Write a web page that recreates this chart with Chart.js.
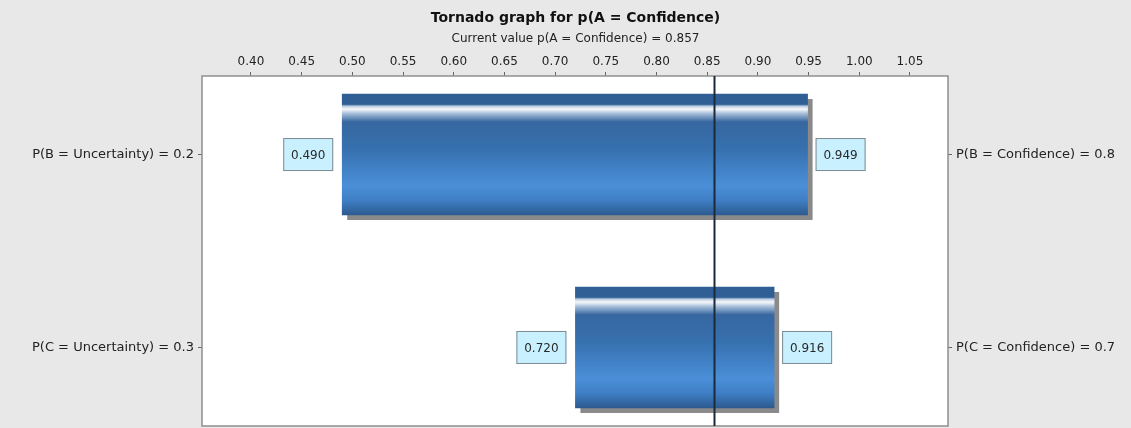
<!DOCTYPE html>
<html>
<head>
<meta charset="utf-8">
<title>Tornado graph</title>
<script src="https://cdn.jsdelivr.net/npm/chart.js@4.4.1/dist/chart.umd.min.js"></script>
<style>
    html, body { margin: 0; padding: 0; background: #e8e8e8; }
    #wrap { width: 1131px; height: 428px; }
</style>
</head>
<body>
<div id="wrap"><canvas id="tornado" width="1131" height="428"></canvas></div>
<script>
// ======================== DADOS ========================
const lowLabels = ['P(B = Uncertainty) = 0.2', 'P(C = Uncertainty) = 0.3'];
const highLabels = ['P(B = Confidence) = 0.8', 'P(C = Confidence) = 0.7'];
const lowValues = [0.490, 0.720];
const highValues = [0.949, 0.916];
const currentValue = 0.857;
const xTicks = [0.40, 0.45, 0.50, 0.55, 0.60, 0.65, 0.70, 0.75, 0.80, 0.85, 0.90, 0.95, 1.00, 1.05];

const FONT = "'DejaVu Sans', sans-serif";
const BAR_H = 121;

// ======================== GRADIENTE DAS BARRAS ========================
function barGradient(context) {
    const chart = context.chart;
    const yScale = chart.scales.y;
    if (!yScale || context.type !== 'data') return '#3a74b4';
    const yc = yScale.getPixelForValue(context.dataIndex);
    if (!isFinite(yc)) return '#3a74b4'; // escala ainda sem layout
    const top = yc - BAR_H / 2;
    const g = chart.ctx.createLinearGradient(0, top, 0, top + BAR_H);
    g.addColorStop(0.0, '#2f5f95');
    g.addColorStop(0.085, '#2f5f95');
    g.addColorStop(0.10, '#b9cbe0');
    g.addColorStop(0.125, '#f6f8fb');
    g.addColorStop(0.16, '#a9c0db');
    g.addColorStop(0.23, '#3767a0');
    g.addColorStop(0.45, '#3670ae');
    g.addColorStop(0.76, '#4a8fd8');
    g.addColorStop(0.88, '#3f7ec4');
    g.addColorStop(1.0, '#2c5a8f');
    return g;
}

// ======================== PLUGIN: FUNDO, SOMBRA, LINHA, CAIXAS ========================
const tornadoPlugin = {
    id: 'tornado',
    beforeDraw(chart) {
        const { ctx, chartArea: a } = chart;
        ctx.save();
        ctx.fillStyle = '#ffffff';
        ctx.fillRect(a.left, a.top, a.right - a.left, a.bottom - a.top);
        ctx.restore();
    },
    beforeDatasetsDraw(chart) {
        const { ctx, chartArea: a } = chart;
        ctx.save();
        ctx.strokeStyle = '#8e8e8e';
        ctx.lineWidth = 1.5;
        ctx.strokeRect(a.left, a.top, a.right - a.left, a.bottom - a.top);

        // sombra das barras
        const meta = chart.getDatasetMeta(0);
        ctx.fillStyle = '#8a8a8a';
        meta.data.forEach((bar) => {
            const p = bar.getProps(['x', 'y', 'base', 'height'], true);
            const left = Math.min(p.x, p.base);
            const w = Math.abs(p.x - p.base);
            ctx.fillRect(left + 5, p.y - p.height / 2 + 5, w, p.height);
        });
        ctx.restore();
    },
    afterDatasetsDraw(chart) {
        const { ctx, chartArea: a, scales } = chart;
        ctx.save();

        // linha do valor atual
        const xc = Math.round(scales.x.getPixelForValue(currentValue)) + 0.5;
        ctx.strokeStyle = '#1b2a3b';
        ctx.lineWidth = 2;
        ctx.beginPath();
        ctx.moveTo(xc, a.top);
        ctx.lineTo(xc, a.bottom);
        ctx.stroke();

        // caixas com os valores
        ctx.font = '12px ' + FONT;
        ctx.textAlign = 'center';
        ctx.textBaseline = 'middle';
        const meta = chart.getDatasetMeta(0);
        meta.data.forEach((bar, i) => {
            const left = scales.x.getPixelForValue(lowValues[i]);
            const right = scales.x.getPixelForValue(highValues[i]);
            const yc = bar.y;
            const boxes = [
                { x: left - 9 - 50, txt: lowValues[i].toFixed(3) },
                { x: right + 8, txt: highValues[i].toFixed(3) },
            ];
            boxes.forEach((b) => {
                ctx.fillStyle = '#c8f0ff';
                ctx.fillRect(b.x, yc - 16.5, 50, 33);
                ctx.strokeStyle = '#7e8a90';
                ctx.lineWidth = 1;
                ctx.strokeRect(b.x + 0.5, yc - 16, 49, 32);
                ctx.fillStyle = '#2a2a2a';
                ctx.fillText(b.txt, b.x + 25, yc + 1);
            });
        });
        ctx.restore();
    },
};

// ======================== GRÁFICO ========================
const yCommon = {
    type: 'linear',
    min: -0.407,
    max: 1.407,
    reverse: true,
    offset: false,
    bounds: 'data',
    afterBuildTicks: (axis) => {
        axis.ticks = [0, 1].map((v) => ({ value: v }));
    },
    grid: { offset: false, drawOnChartArea: false, drawTicks: true, tickLength: 4, color: '#666' },
    border: { display: false },
};

new Chart(document.getElementById('tornado'), {
    type: 'bar',
    data: {
        datasets: [
            {
                data: lowValues.map((v, i) => ({ y: i, x: [v, highValues[i]] })),
                backgroundColor: barGradient,
                borderWidth: 0,
                barThickness: BAR_H,
                yAxisID: 'y',
            },
        ],
    },
    options: {
        indexAxis: 'y',
        responsive: false,
        animation: false,
        devicePixelRatio: 1,
        layout: { padding: { left: 20, right: 0, top: 0, bottom: 2 } },
        plugins: {
            legend: { display: false },
            tooltip: { enabled: false },
            title: {
                display: true,
                text: 'Tornado graph for p(A = Confidence)',
                color: '#111',
                font: { family: FONT, size: 14, weight: 'bold' },
                padding: { top: 10, bottom: 0 },
            },
            subtitle: {
                display: true,
                text: 'Current value p(A = Confidence) = ' + currentValue,
                color: '#222',
                font: { family: FONT, size: 12 },
                padding: { top: 5, bottom: 0 },
            },
        },
        scales: {
            x: {
                type: 'linear',
                position: 'top',
                min: 0.3517,
                max: 1.0875,
                afterBuildTicks: (axis) => {
                    axis.ticks = xTicks.map((v) => ({ value: v }));
                },
                afterFit: (scale) => {
                    scale.height = 29.8;
                },
                ticks: {
                    callback: (v) => Number(v).toFixed(2),
                    color: '#222',
                    font: { family: FONT, size: 12 },
                    padding: 3,
                    maxRotation: 0,
                    autoSkip: false,
                },
                grid: { drawOnChartArea: false, drawTicks: true, tickLength: 4, color: '#666' },
                border: { display: false },
            },
            y: {
                ...yCommon,
                position: 'left',
                afterFit: (scale) => {
                    scale.width = 182;
                    scale.paddingTop = 0;
                    scale.paddingBottom = 0;
                },
                ticks: {
                    callback: (v) => lowLabels[v],
                    color: '#222',
                    font: { family: FONT, size: 13 },
                    padding: 4,
                },
            },
            y2: {
                ...yCommon,
                position: 'right',
                afterFit: (scale) => {
                    scale.width = 183;
                    scale.paddingTop = 0;
                    scale.paddingBottom = 0;
                },
                ticks: {
                    callback: (v) => highLabels[v],
                    color: '#222',
                    font: { family: FONT, size: 13 },
                    padding: 4,
                },
            },
        },
    },
    plugins: [tornadoPlugin],
});
</script>
</body>
</html>
